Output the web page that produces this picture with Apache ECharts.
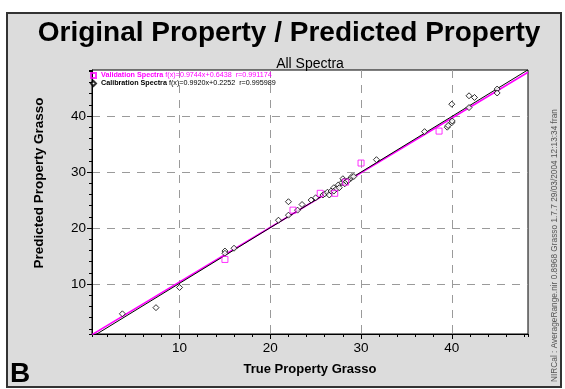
<!DOCTYPE html>
<html><head><meta charset="utf-8">
<script src="https://cdn.jsdelivr.net/npm/echarts@6/dist/echarts.min.js"></script>
<style>html,body{margin:0;padding:0;background:#fff;}#c{width:565px;height:389px;}</style>
</head><body><div id="c"></div>
<script>
// ---- data ----
const calibX = [3.7, 7.4, 10.0, 15.0, 15.0, 16.0, 20.9, 22.0, 22.0, 23.0, 23.5, 24.5, 25.0, 25.8, 26.0, 26.3, 26.5, 26.7, 27.0, 27.0, 27.3, 27.5, 27.6, 27.9, 28.0, 28.1, 28.2, 28.4, 28.6, 28.9, 29.0, 29.2, 31.7, 37.0, 39.5, 39.6, 40.0, 40.05, 40.0, 41.9, 41.9, 42.5, 45.0, 45.0];
const calibY = [4.7, 5.8, 9.4, 15.9, 15.5, 16.4, 21.4, 24.7, 22.3, 23.2, 24.2, 25.0, 25.4, 25.9, 26.1, 26.4, 25.9, 26.6, 27.2, 26.6, 27.0, 27.7, 27.2, 28.1, 28.8, 28.4, 27.9, 28.3, 28.5, 28.9, 29.2, 29.2, 32.2, 37.2, 38.0, 38.3, 38.8, 39.1, 42.1, 41.5, 43.6, 43.3, 44.8, 44.1];
const validX = [15.0, 22.5, 25.5, 27.1, 28.3, 30.0, 38.6];
const validY = [14.4, 23.2, 26.2, 26.2, 28.2, 31.6, 37.3];
const seriesNames = ['Validation Spectra', 'Calibration Spectra'];
const fitSlope = [0.9744, 0.9920];
const fitIntercept = [0.6438, 0.2252];
const fitR = ['0.991174', '0.995989'];
const xRange = [0.35, 48.4];
const yRange = [1.1, 48.2];
const titleText = 'Original Property / Predicted Property';
const subTitleText = 'All Spectra';
const xName = 'True Property Grasso';
const yName = 'Predicted Property Grasso';
const panelLetter = 'B';
const footerText = 'NIRCal : AverageRange.nir 0.8968 Grasso 1.7.7 29/03/2004 12:13:34 fran';

// ---- build ----
const FONT = '"Liberation Sans", Arial, Helvetica, sans-serif';
const MAG = '#ff00ff';
const pts = (xs, ys) => xs.map((x, i) => [x, ys[i]]);
const fitLine = i => xRange.map(x => [x, fitSlope[i] * x + fitIntercept[i]]);
const formulas = {};
seriesNames.forEach((n, i) => {
  formulas[n] = 'f(x)=' + fitSlope[i].toFixed(4) + 'x+' + fitIntercept[i].toFixed(4) + '  r=' + fitR[i];
});

const chart = echarts.init(document.getElementById('c'), null, {renderer: 'canvas'});

const mainAxisCommon = {
  type: 'value', splitNumber: 5,
  axisLine: {show: true, onZero: false, lineStyle: {color: '#000', width: 1}},
  axisTick: {show: true, inside: false, length: 5, lineStyle: {color: '#000'}},
  axisLabel: {fontFamily: FONT, fontSize: 13.5, color: '#000', showMinLabel: false, showMaxLabel: false},
  splitLine: {show: true, showMinLine: false, showMaxLine: false, lineStyle: {color: '#9a9a9a', type: [8, 7], width: 1}}
};
const minorAxisCommon = {
  type: 'value', splitNumber: 24,
  axisLine: {show: false, onZero: false},
  axisTick: {show: true, inside: false, length: 3, lineStyle: {color: '#000'}},
  axisLabel: {show: false},
  splitLine: {show: false}
};

chart.setOption({
  backgroundColor: '#fff',
  animation: false,
  textStyle: {fontFamily: FONT},
  graphic: [
    {type: 'rect', z: -10, shape: {x: 7, y: 13, width: 554, height: 374},
     style: {fill: '#dcdcdc', stroke: '#333', lineWidth: 2}},
    {type: 'text', z: 10, left: 10, top: 360,
     style: {text: panelLetter, font: 'bold 28px ' + FONT, fill: '#000'}},
    {type: 'text', z: 10, x: 555, y: 382, rotation: Math.PI / 2,
     style: {text: footerText, font: '8.3px ' + FONT, fill: '#555', textAlign: 'left', textVerticalAlign: 'middle'}}
  ],
  title: [
    {text: titleText, left: 284, top: 14, textAlign: 'center',
     textStyle: {fontFamily: FONT, fontSize: 28, fontWeight: 'bold', color: '#000'}},
    {text: subTitleText, left: 305, top: 52, textAlign: 'center',
     textStyle: {fontFamily: FONT, fontSize: 14, fontWeight: 'normal', color: '#000'}}
  ],
  legend: {
    left: 90, top: 72, orient: 'vertical', itemWidth: 5, itemHeight: 5, itemGap: 1,
    padding: 0, selectedMode: false,
    data: [
      {name: seriesNames[0], textStyle: {color: MAG}},
      {name: seriesNames[1], textStyle: {color: '#000'}}
    ],
    formatter: n => '{b|' + n + '} {n|' + formulas[n] + '}',
    textStyle: {
      fontFamily: FONT, fontSize: 7.2,
      rich: {b: {fontWeight: 'bold', fontSize: 7.2, fontFamily: FONT}, n: {fontSize: 7.2, fontFamily: FONT}}
    }
  },
  grid: {left: 92, top: 70, width: 436, height: 264, show: true, backgroundColor: '#fff', borderColor: '#000', borderWidth: 1},
  xAxis: [
    Object.assign({}, mainAxisCommon, {position: 'bottom', min: xRange[0], max: xRange[1],
      axisLabel: Object.assign({}, mainAxisCommon.axisLabel, {margin: 7}),
      name: xName, nameLocation: 'middle', nameGap: 29,
      nameTextStyle: {fontFamily: FONT, fontSize: 13, fontWeight: 'bold', color: '#000'}}),
    Object.assign({}, minorAxisCommon, {position: 'bottom', min: xRange[0], max: xRange[1]})
  ],
  yAxis: [
    Object.assign({}, mainAxisCommon, {position: 'left', min: yRange[0], max: yRange[1],
      axisLabel: Object.assign({}, mainAxisCommon.axisLabel, {margin: 6}),
      name: yName, nameLocation: 'middle', nameGap: 46,
      nameTextStyle: {fontFamily: FONT, fontSize: 13.5, fontWeight: 'bold', color: '#000', padding: [0, 0, 0, 38]}}),
    Object.assign({}, minorAxisCommon, {position: 'left', min: yRange[0], max: yRange[1]})
  ],
  series: [
    {name: 'Validation fit', type: 'line', data: fitLine(0), symbol: 'none', clip: true, silent: true,
     lineStyle: {color: MAG, width: 1.6}, z: 2},
    {name: 'Calibration fit', type: 'line', data: fitLine(1), symbol: 'none', clip: true, silent: true,
     lineStyle: {color: '#000', width: 1}, z: 3},
    {name: seriesNames[1], type: 'scatter', data: pts(calibX, calibY), symbol: 'diamond', symbolSize: 6,
     itemStyle: {color: '#fff', borderColor: '#000', borderWidth: 1}, z: 4},
    {name: seriesNames[0], type: 'scatter', data: pts(validX, validY), symbol: 'rect', symbolSize: 6,
     itemStyle: {color: 'rgba(255,255,255,0)', borderColor: MAG, borderWidth: 1}, z: 5}
  ]
});
</script></body></html>
